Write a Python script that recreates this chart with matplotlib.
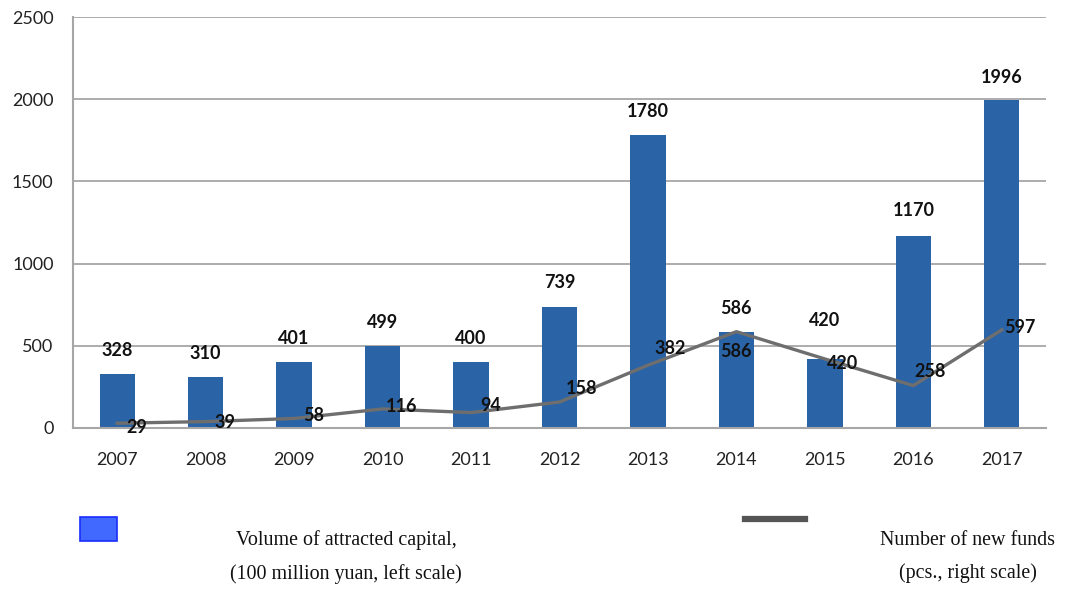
import matplotlib
matplotlib.use("Agg")
import matplotlib.pyplot as plt
from matplotlib.patches import Rectangle
from matplotlib.lines import Line2D

years = ["2007", "2008", "2009", "2010", "2011", "2012", "2013", "2014", "2015", "2016", "2017"]
capital = [328, 310, 401, 499, 400, 739, 1780, 586, 420, 1170, 1996]
funds = [29, 39, 58, 116, 94, 158, 382, 586, 420, 258, 597]
yticks = [0, 500, 1000, 1500, 2000, 2500]

legend_bar = "Volume of attracted capital,\n(100 million yuan, left scale)"
legend_line = "Number of new funds\n(pcs., right scale)"

# label offsets (points) for the line value labels
line_lbl_off = [(14, -3), (14, -1), (14, 2), (14, 2), (14, 5), (16, 10), (16, 12), (0, -14), (13, -3), (12, 10), (13, 2)]
bar_lbl_off = [17, 17, 17, 17, 17, 17, 17, 17, 28, 18, 16]

BAR_C = "#2a64a6"
LINE_C = "#6e6e6e"
GRID_C = "#a6a6a6"
NUMFONT = ["Lato", "DejaVu Sans"]
FS = 13

fig = plt.figure(figsize=(10.91, 5.90), dpi=100)
ax = fig.add_axes([73 / 1091, 1 - 428 / 590, (1046 - 73) / 1091, (428 - 17) / 590])

x = list(range(len(years)))
ax.bar(x, capital, width=0.4, color=BAR_C, zorder=2)
ax.plot(x, funds, color=LINE_C, lw=2.4, zorder=3, solid_joinstyle="round")

for xi, v, off in zip(x, capital, bar_lbl_off):
    ax.annotate(str(v), (xi, v), xytext=(0, off), textcoords="offset points",
                ha="center", va="center", fontsize=FS, fontweight="bold",
                family=NUMFONT, color="#111111", zorder=5)
for xi, v, off in zip(x, funds, line_lbl_off):
    ax.annotate(str(v), (xi, v), xytext=off, textcoords="offset points",
                ha="center", va="center", fontsize=FS, fontweight="bold",
                family=NUMFONT, color="#111111", zorder=5)

ax.set_xlim(-0.5, len(years) - 0.5)
ax.set_ylim(0, 2500)
ax.set_yticks(yticks)
ax.set_yticklabels([str(t) for t in yticks], family=NUMFONT, fontsize=FS, color="#222222")
ax.set_xticks(x)
ax.set_xticklabels(years, family=NUMFONT, fontsize=FS, color="#222222")
ax.tick_params(axis="both", length=0)
ax.tick_params(axis="x", pad=17)
ax.tick_params(axis="y", pad=14)
ax.yaxis.grid(True, color=GRID_C, lw=1.3, zorder=0)
ax.set_axisbelow(True)
for s in ["top", "right"]:
    ax.spines[s].set_visible(False)
for s in ["left", "bottom"]:
    ax.spines[s].set_color(GRID_C)
    ax.spines[s].set_linewidth(1.5)

# legend drawn manually at bottom
fig.patches.append(Rectangle((80 / 1091, 1 - 541 / 590), 37 / 1091, 24 / 590,
                             transform=fig.transFigure, facecolor="#4169ff",
                             edgecolor="#1a2cff", lw=1.2))
fig.lines.append(Line2D([745 / 1091, 805 / 1091], [1 - 519 / 590, 1 - 519 / 590],
                        transform=fig.transFigure, color="#555555", lw=4.5))
fig.text(346 / 1091, 1 - 557 / 590, legend_bar, ha="center", va="center",
         family="Liberation Serif", fontsize=14.4, linespacing=1.95, color="#111111")
fig.text(968 / 1091, 1 - 557 / 590, legend_line, ha="center", va="center",
         family="Liberation Serif", fontsize=14.4, linespacing=1.95, color="#111111")

fig.savefig("out.png", dpi=100)
